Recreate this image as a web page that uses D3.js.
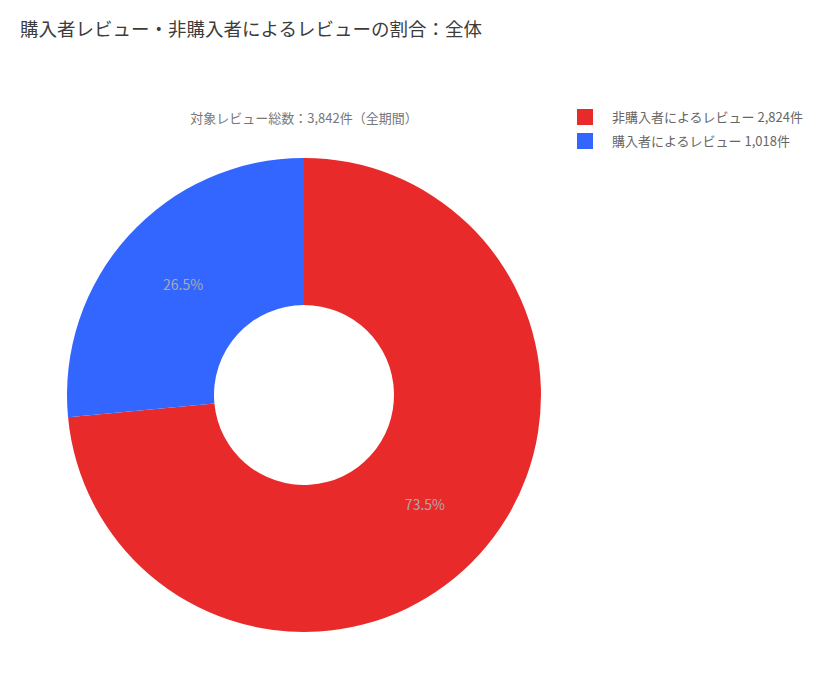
<!DOCTYPE html>
<html lang="ja">
<head>
<meta charset="UTF-8"/>
<title>購入者レビュー・非購入者によるレビューの割合</title>
<script src="https://d3js.org/d3.v7.min.js"></script>
<style>
	body { margin: 0; background: #fff; font-family: "Noto Sans CJK JP", "Noto Sans", sans-serif; }
</style>
</head>
<body>
<script>
	// data
	var categories = ["非購入者によるレビュー", "購入者によるレビュー"];
	var counts = [2824, 1018];
	var colors = ["#e92a2a", "#3366ff"];
	var chartTitle = "購入者レビュー・非購入者によるレビューの割合：全体";
	var subTitle = "対象レビュー総数：3,842件（全期間）";

	var w = 822;
	var h = 676;
	var cx = 304, cy = 395;
	var outerR = 237, innerR = 90;

	var total = d3.sum(counts);

	var svg = d3.select("body").append("svg").attr("width", w).attr("height", h);

	svg.append("text")
		.attr("x", 20)
		.attr("y", 36)
		.attr("font-size", "18.5px")
		.attr("fill", "#3c3c3c")
		.text(chartTitle);

	svg.append("text")
		.attr("x", cx)
		.attr("y", 123)
		.attr("text-anchor", "middle")
		.attr("font-size", "13px")
		.attr("fill", "#777")
		.text(subTitle);

	var pie = d3.pie().sort(null).value(function(d){ return d; });
	var arc = d3.arc().innerRadius(innerR).outerRadius(outerR);
	var labelArc = d3.arc().innerRadius((innerR + outerR) / 2).outerRadius((innerR + outerR) / 2);

	var g = svg.append("g").attr("transform", "translate(" + cx + "," + cy + ")");

	g.selectAll("path").data(pie(counts)).enter().append("path")
		.attr("d", arc)
		.attr("fill", function(d, i){ return colors[i]; });

	g.selectAll("text.pct").data(pie(counts)).enter().append("text")
		.attr("class", "pct")
		.attr("transform", function(d){ return "translate(" + labelArc.centroid(d) + ")"; })
		.attr("text-anchor", "middle")
		.attr("dy", "0.35em")
		.attr("font-size", "14px")
		.attr("fill", "#aaa")
		.text(function(d){ return (d.value / total * 100).toFixed(1) + "%"; });

	// legend
	var legend = svg.append("g").attr("transform", "translate(577,109)");
	var items = legend.selectAll("g").data(categories).enter().append("g")
		.attr("transform", function(d, i){ return "translate(0," + (i * 24) + ")"; });

	items.append("rect")
		.attr("width", 16)
		.attr("height", 16)
		.attr("fill", function(d, i){ return colors[i]; });

	items.append("text")
		.attr("x", 35)
		.attr("y", 13)
		.attr("font-size", "13px")
		.attr("fill", "#666")
		.text(function(d, i){ return d + " " + d3.format(",")(counts[i]) + "件"; });
</script>
</body>
</html>
